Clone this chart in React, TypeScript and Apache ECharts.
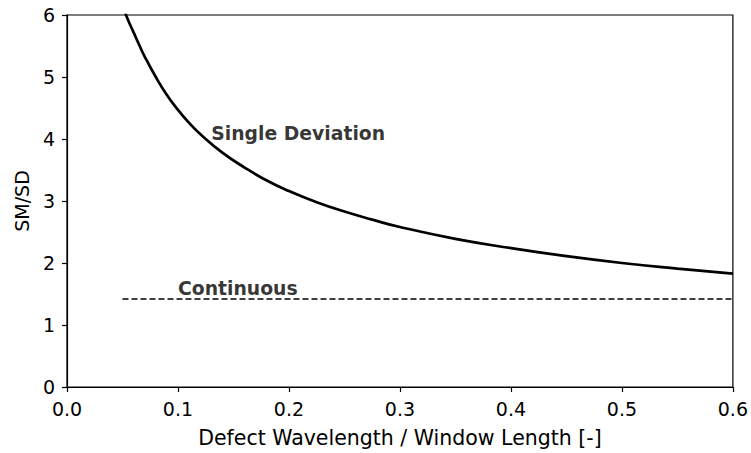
import React, { useEffect, useRef } from "react";
import * as echarts from "echarts";

const ratio = [0.05, 0.055, 0.06, 0.065, 0.07, 0.08, 0.09, 0.1, 0.11, 0.12, 0.14, 0.16, 0.18, 0.2, 0.225, 0.25, 0.275, 0.3, 0.35, 0.4, 0.45, 0.5, 0.55, 0.6];
const singleDeviation = [6.15, 5.92, 5.72, 5.52, 5.33, 5.0, 4.71, 4.47, 4.26, 4.08, 3.78, 3.54, 3.33, 3.16, 2.98, 2.83, 2.7, 2.58, 2.39, 2.24, 2.11, 2.0, 1.91, 1.83];
const continuousX = [0.05, 0.6];
const continuousY = [1.42, 1.42];
const annotations = [
  { name: "Single Deviation", x: 0.13, y: 4.0 },
  { name: "Continuous", x: 0.1, y: 1.5 },
];

const FONT = "DejaVu Sans";
const TICK_FS = 19;
const NAME_FS = 20.5;
const NOTE_FS = 18.8;

export default function App() {
  const ref = useRef<HTMLDivElement>(null);
  useEffect(() => {
    if (!ref.current) return;
    const chart = echarts.init(ref.current, undefined, { renderer: "svg" });
    chart.setOption({
      animation: false,
      backgroundColor: "#fff",
      textStyle: { fontFamily: FONT },
      grid: {
        left: 67,
        right: 18,
        top: 15,
        bottom: 66,
        show: true,
        borderColor: "#000",
        borderWidth: 1.2,
        backgroundColor: "transparent",
      },
      xAxis: {
        type: "value",
        min: 0,
        max: 0.6,
        interval: 0.1,
        name: "Defect Wavelength / Window Length [-]",
        nameLocation: "middle",
        nameGap: 40,
        nameTextStyle: { fontFamily: FONT, fontSize: NAME_FS, color: "#000" },
        axisLine: { show: true, onZero: false, lineStyle: { color: "#000", width: 1.2 } },
        axisTick: { show: true, length: 5, lineStyle: { color: "#000", width: 1.2 } },
        axisLabel: {
          fontFamily: FONT,
          fontSize: TICK_FS,
          color: "#000",
          margin: 12,
          formatter: (v: number) => v.toFixed(1),
        },
        splitLine: { show: false },
      },
      yAxis: {
        type: "value",
        min: 0,
        max: 6,
        interval: 1,
        name: "SM/SD",
        nameLocation: "middle",
        nameGap: 36,
        nameRotate: 90,
        nameTextStyle: { fontFamily: FONT, fontSize: TICK_FS, color: "#000" },
        axisLine: { show: true, onZero: false, lineStyle: { color: "#000", width: 1.2 } },
        axisTick: { show: true, length: 5, lineStyle: { color: "#000", width: 1.2 } },
        axisLabel: {
          fontFamily: FONT,
          fontSize: TICK_FS,
          color: "#000",
          margin: 12,
          formatter: (v: number) => String(Math.round(v)),
        },
        splitLine: { show: false },
      },
      series: [
        {
          type: "line",
          name: "Single Deviation",
          data: ratio.map((x, i) => [x, singleDeviation[i]]),
          showSymbol: false,
          smooth: true,
          clip: true,
          lineStyle: { color: "#000", width: 2.7 },
          z: 3,
        },
        {
          type: "line",
          name: "Continuous",
          data: continuousX.map((x, i) => [x, continuousY[i]]),
          showSymbol: false,
          lineStyle: { color: "#000", width: 1.4, type: [6, 3] },
          z: 3,
        },
        {
          type: "scatter",
          symbolSize: 0,
          data: annotations.map((a) => ({ value: [a.x, a.y], name: a.name })),
          label: {
            show: true,
            position: [0, 0],
            align: "left",
            verticalAlign: "middle",
            offset: [0, -6],
            formatter: (p: any) => p.name,
            fontFamily: FONT,
            fontSize: NOTE_FS,
            fontWeight: "bold",
            color: "#000",
          },
          silent: true,
          z: 4,
        },
      ],
    });
    return () => chart.dispose();
  }, []);
  return (
    <div
      ref={ref}
      style={{ position: "fixed", left: 0, top: 0, width: 751, height: 453, background: "#fff" }}
    />
  );
}
